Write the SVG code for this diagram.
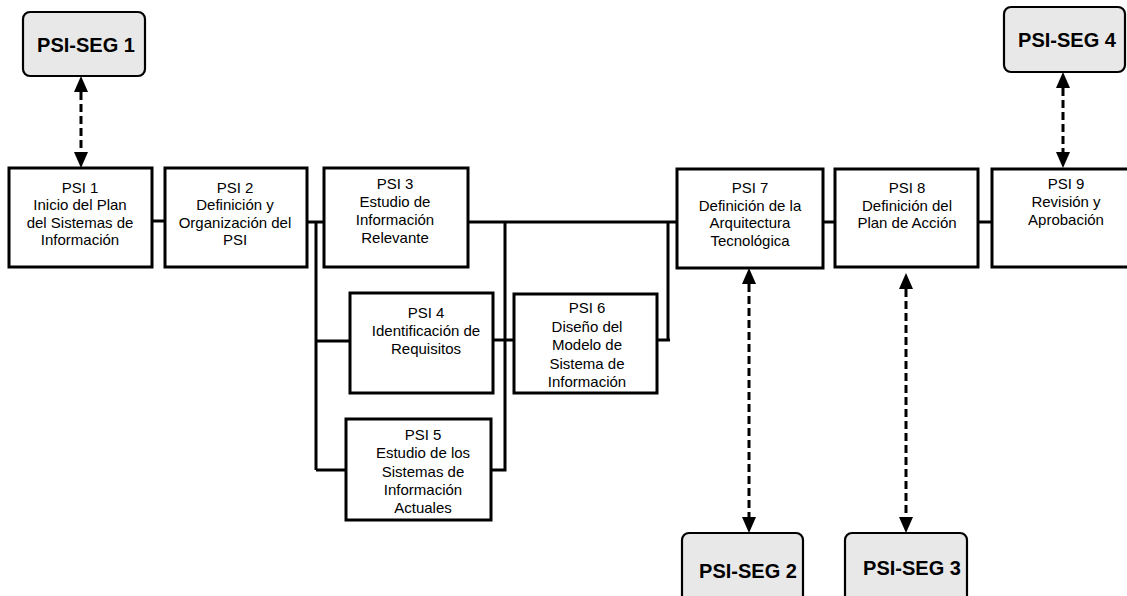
<svg xmlns="http://www.w3.org/2000/svg" width="1127" height="596" viewBox="0 0 1127 596">
<style>
.box{fill:#fff;stroke:#000;stroke-width:3}
.seg{fill:#e8e8e8;stroke:#000;stroke-width:2.2}
.t{font-family:"Liberation Sans",Arial,sans-serif;font-size:15px;fill:#000;text-anchor:middle}
.st{font-family:"Liberation Sans",Arial,sans-serif;font-size:20px;font-weight:bold;fill:#000;text-anchor:middle}
.c{fill:none;stroke:#000;stroke-width:3}
.d{fill:none;stroke:#000;stroke-width:3;stroke-dasharray:8 4;marker-start:url(#ah);marker-end:url(#ah)}
</style>
<defs>
<marker id="ah" markerUnits="userSpaceOnUse" markerWidth="20" markerHeight="20" viewBox="0 -10 20 20" refX="0" refY="0" orient="auto-start-reverse" overflow="visible">
<path d="M0,-7 L16,0 L0,7 Z" fill="#000"/>
</marker>
</defs>
<g id="connectors">
<path class="c" d="M152,221 H165"/>
<path class="c" d="M307,222 H324"/>
<path class="c" d="M316,222 V470"/>
<path class="c" d="M316,341 H350"/>
<path class="c" d="M316,470 H346"/>
<path class="c" d="M491,470 H505 V222"/>
<path class="c" d="M468,222 H677"/>
<path class="c" d="M493,340 H514"/>
<path class="c" d="M657,340 H670"/>
<path class="c" d="M668,222 V341"/>
<path class="c" d="M823,222 H835"/>
<path class="c" d="M978,222 H992"/>
<path class="d" d="M81,92 V152"/>
<path class="d" d="M1063,88 V152"/>
<path class="d" d="M749,284 V517"/>
<path class="d" d="M906,289 V517"/>
</g>
<g id="seg1">
<rect class="seg" x="23" y="12" width="122" height="64" rx="7"/>
<text class="st" x="86" y="52">PSI-SEG 1</text>
</g>
<g id="seg4">
<rect class="seg" x="1004" y="7" width="121" height="65" rx="7"/>
<text class="st" x="1067" y="47">PSI-SEG 4</text>
</g>
<g id="seg2">
<rect class="seg" x="682" y="533" width="121" height="75" rx="7"/>
<text class="st" x="748" y="578">PSI-SEG 2</text>
</g>
<g id="seg3">
<rect class="seg" x="845" y="533" width="122" height="75" rx="7"/>
<text class="st" x="912" y="575">PSI-SEG 3</text>
</g>
<g id="psi1">
<rect class="box" x="9" y="168" width="143" height="99"/>
<text class="t" x="80" y="192.5">PSI 1</text>
<text class="t" x="80" y="210">Inicio del Plan</text>
<text class="t" x="80" y="227.5">del Sistemas de</text>
<text class="t" x="80" y="245">Información</text>
</g>
<g id="psi2">
<rect class="box" x="165" y="168" width="142" height="99"/>
<text class="t" x="235" y="192.5">PSI 2</text>
<text class="t" x="235" y="210">Definición y</text>
<text class="t" x="235" y="227.5">Organización del</text>
<text class="t" x="235" y="245">PSI</text>
</g>
<g id="psi3">
<rect class="box" x="324" y="168" width="144" height="99"/>
<text class="t" x="395" y="189">PSI 3</text>
<text class="t" x="395" y="207">Estudio de</text>
<text class="t" x="395" y="225">Información</text>
<text class="t" x="395" y="243">Relevante</text>
</g>
<g id="psi4">
<rect class="box" x="350" y="293" width="143" height="100"/>
<text class="t" x="426" y="318">PSI 4</text>
<text class="t" x="426" y="336">Identificación de</text>
<text class="t" x="426" y="354">Requisitos</text>
</g>
<g id="psi5">
<rect class="box" x="346" y="419" width="145" height="101"/>
<text class="t" x="423" y="440">PSI 5</text>
<text class="t" x="423" y="458">Estudio de los</text>
<text class="t" x="423" y="476.5">Sistemas de</text>
<text class="t" x="423" y="494.5">Información</text>
<text class="t" x="423" y="512.5">Actuales</text>
</g>
<g id="psi6">
<rect class="box" x="514" y="294" width="143" height="99"/>
<text class="t" x="587" y="313">PSI 6</text>
<text class="t" x="587" y="331.5">Diseño del</text>
<text class="t" x="587" y="350">Modelo de</text>
<text class="t" x="587" y="369">Sistema de</text>
<text class="t" x="587" y="387">Información</text>
</g>
<g id="psi7">
<rect class="box" x="677" y="169" width="146" height="99"/>
<text class="t" x="750" y="193">PSI 7</text>
<text class="t" x="750" y="210.5">Definición de la</text>
<text class="t" x="750" y="228">Arquitectura</text>
<text class="t" x="750" y="245.5">Tecnológica</text>
</g>
<g id="psi8">
<rect class="box" x="835" y="169" width="143" height="98"/>
<text class="t" x="907" y="193">PSI 8</text>
<text class="t" x="907" y="210.5">Definición del</text>
<text class="t" x="907" y="228">Plan de Acción</text>
</g>
<g id="psi9">
<rect class="box" x="992" y="169" width="145" height="98"/>
<text class="t" x="1066" y="189">PSI 9</text>
<text class="t" x="1066" y="207">Revisión y</text>
<text class="t" x="1066" y="225">Aprobación</text>
</g>
</svg>
